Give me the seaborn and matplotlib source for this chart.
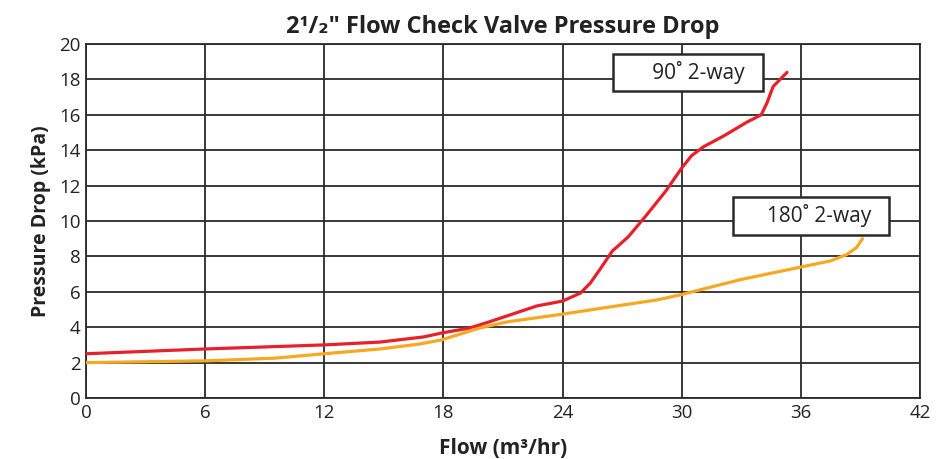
import pandas as pd
import seaborn as sns
import matplotlib.pyplot as plt

# Curve data (flow in m3/hr, pressure drop in kPa)
flow_90 = [0, 6, 12, 14.8, 17, 17.9, 19.3, 20.3, 21.5, 22.7, 24, 24.9, 25.4, 25.9,
           26.5, 27.3, 28.2, 29.2, 30.0, 30.5, 31.1, 32.1, 33.3, 34.0, 34.3, 34.6, 35.3]
drop_90 = [2.5, 2.77, 3.0, 3.16, 3.45, 3.67, 3.95, 4.3, 4.75, 5.2, 5.48, 5.93, 6.5, 7.3,
           8.3, 9.1, 10.3, 11.7, 13.0, 13.7, 14.2, 14.8, 15.6, 16.0, 16.7, 17.6, 18.4]

flow_180 = [0, 6, 9.5, 12, 14.8, 16.8, 17.9, 19.8, 21.2, 24, 27, 28.75, 30, 33, 36,
            37.5, 38.3, 38.8, 39.1]
drop_180 = [2.0, 2.1, 2.25, 2.5, 2.77, 3.05, 3.28, 3.95, 4.3, 4.74, 5.25, 5.54, 5.85,
            6.7, 7.4, 7.75, 8.1, 8.5, 9.0]

x_ticks = [0, 6, 12, 18, 24, 30, 36, 42]
y_ticks = [0, 2, 4, 6, 8, 10, 12, 14, 16, 18, 20]

df = pd.concat([
    pd.DataFrame({'flow': flow_90, 'drop': drop_90, 'valve': '90˚ 2-way'}),
    pd.DataFrame({'flow': flow_180, 'drop': drop_180, 'valve': '180˚ 2-way'}),
])

sns.set_style('white')
plt.rcParams['font.family'] = ['Open Sans', 'DejaVu Sans']

fig = plt.figure(figsize=(9.5, 4.59), dpi=100)
ax = fig.add_axes([0.0905, 0.1329, 0.878, 0.7711])

sns.lineplot(data=df, x='flow', y='drop', hue='valve', sort=False, estimator=None,
             palette={'90˚ 2-way': '#E8202A', '180˚ 2-way': '#F7A823'},
             linewidth=2.3, legend=False, ax=ax, zorder=3)

ax.set_xlim(0, 42)
ax.set_ylim(0, 20)
ax.set_xticks(x_ticks)
ax.set_yticks(y_ticks)
ax.tick_params(labelsize=13.5, colors='#222222', length=0, pad=4)
ax.grid(True, color='#2a2a2a', linewidth=1.3)
for s in ax.spines.values():
    s.set_color('#2a2a2a')
    s.set_linewidth(1.3)

ax.set_title('2¹/₂″ Flow Check Valve Pressure Drop', fontsize=17, fontweight='bold',
             color='#222222', pad=8)
ax.set_xlabel('Flow (m³/hr)', fontsize=15, fontweight='bold', color='#222222', labelpad=12)
ax.set_ylabel('Pressure Drop (kPa)', fontsize=14, fontweight='bold', color='#222222',
              labelpad=6)

box = dict(boxstyle='square,pad=0.35', facecolor='white', edgecolor='#2a2a2a', linewidth=1.8)
ax.text(30.3, 18.4, '      90˚ 2-way  ', fontsize=15, color='#222222', ha='center',
        va='center', bbox=box, zorder=4)
ax.text(36.5, 10.3, '     180˚ 2-way  ', fontsize=15, color='#222222', ha='center',
        va='center', bbox=box, zorder=4)

plt.savefig('out.png', dpi=100)
